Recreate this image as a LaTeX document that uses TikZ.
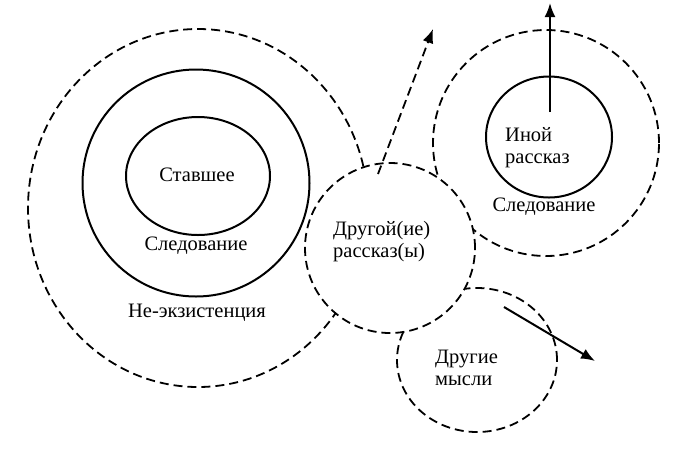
\documentclass[tikz,border=0pt]{standalone}
\usepackage{fontspec}
\setmainfont{Liberation Serif}
\usetikzlibrary{arrows.meta,shapes.geometric}
\tikzset{
  dashring/.style={ellipse, draw, line width=1.8pt, dash pattern=on 9pt off 5pt, inner sep=0pt},
  solidring/.style={ellipse, draw, line width=2pt, inner sep=0pt},
  lbl/.style={font=\fontsize{20.5}{22}\selectfont, inner sep=0pt, align=left},
  tip/.style={-{Latex[length=14pt,width=11pt]}}
}
\begin{document}
\begin{tikzpicture}[x=1pt, y=-1pt]
\useasboundingbox (0,0) rectangle (684,451);
\node[dashring, minimum width=170pt, minimum height=170pt] (drugoy) at (390,248) {};
\begin{scope}[even odd rule]
\clip (0,0) rectangle (684,451) (390,248) circle (85pt);
\node[dashring, minimum width=340pt, minimum height=358pt] (neex) at (198,208) {};
\node[dashring, minimum width=226pt, minimum height=226pt] (sled) at (546,143) {};
\node[dashring, minimum width=160pt, minimum height=144pt] (mysli) at (477,360) {};
\end{scope}
\node[solidring, minimum width=227pt, minimum height=227pt] (sledovanie) at (196,183) {};
\node[solidring, minimum width=144pt, minimum height=118pt] (stavshee) at (198,176) {};
\node[solidring, minimum width=126pt, minimum height=121pt] (inoy) at (549,137) {};

\node[lbl] (t1) at (197,175) {Ставшее};
\node[lbl] (t2) at (196,246) {Следование};
\node[lbl] (t3) at (197,313) {Не-экзистенция};
\node[lbl, anchor=west] (t4) at (333,242) {Другой(ие)\\рассказ(ы)};
\node[lbl, anchor=west] (t5) at (505,148) {Иной\\рассказ};
\node[lbl] (t6) at (544,207) {Следование};
\node[lbl, anchor=west] (t7) at (435,368) {Другие\\мысли};

\coordinate (upstart) at (550,112);
\coordinate (upend) at (550,3);
\coordinate (dstart) at (378,174);
\coordinate (dend) at (433,29);
\coordinate (mstart) at (504,307);
\coordinate (mend) at (595,361);
\draw[tip, line width=2pt] (upstart) -- (upend);
\draw[tip, line width=1.8pt, dash pattern=on 9pt off 5pt] (dstart) -- (dend);
\draw[tip, line width=2pt] (mstart) -- (mend);
\end{tikzpicture}
\end{document}
